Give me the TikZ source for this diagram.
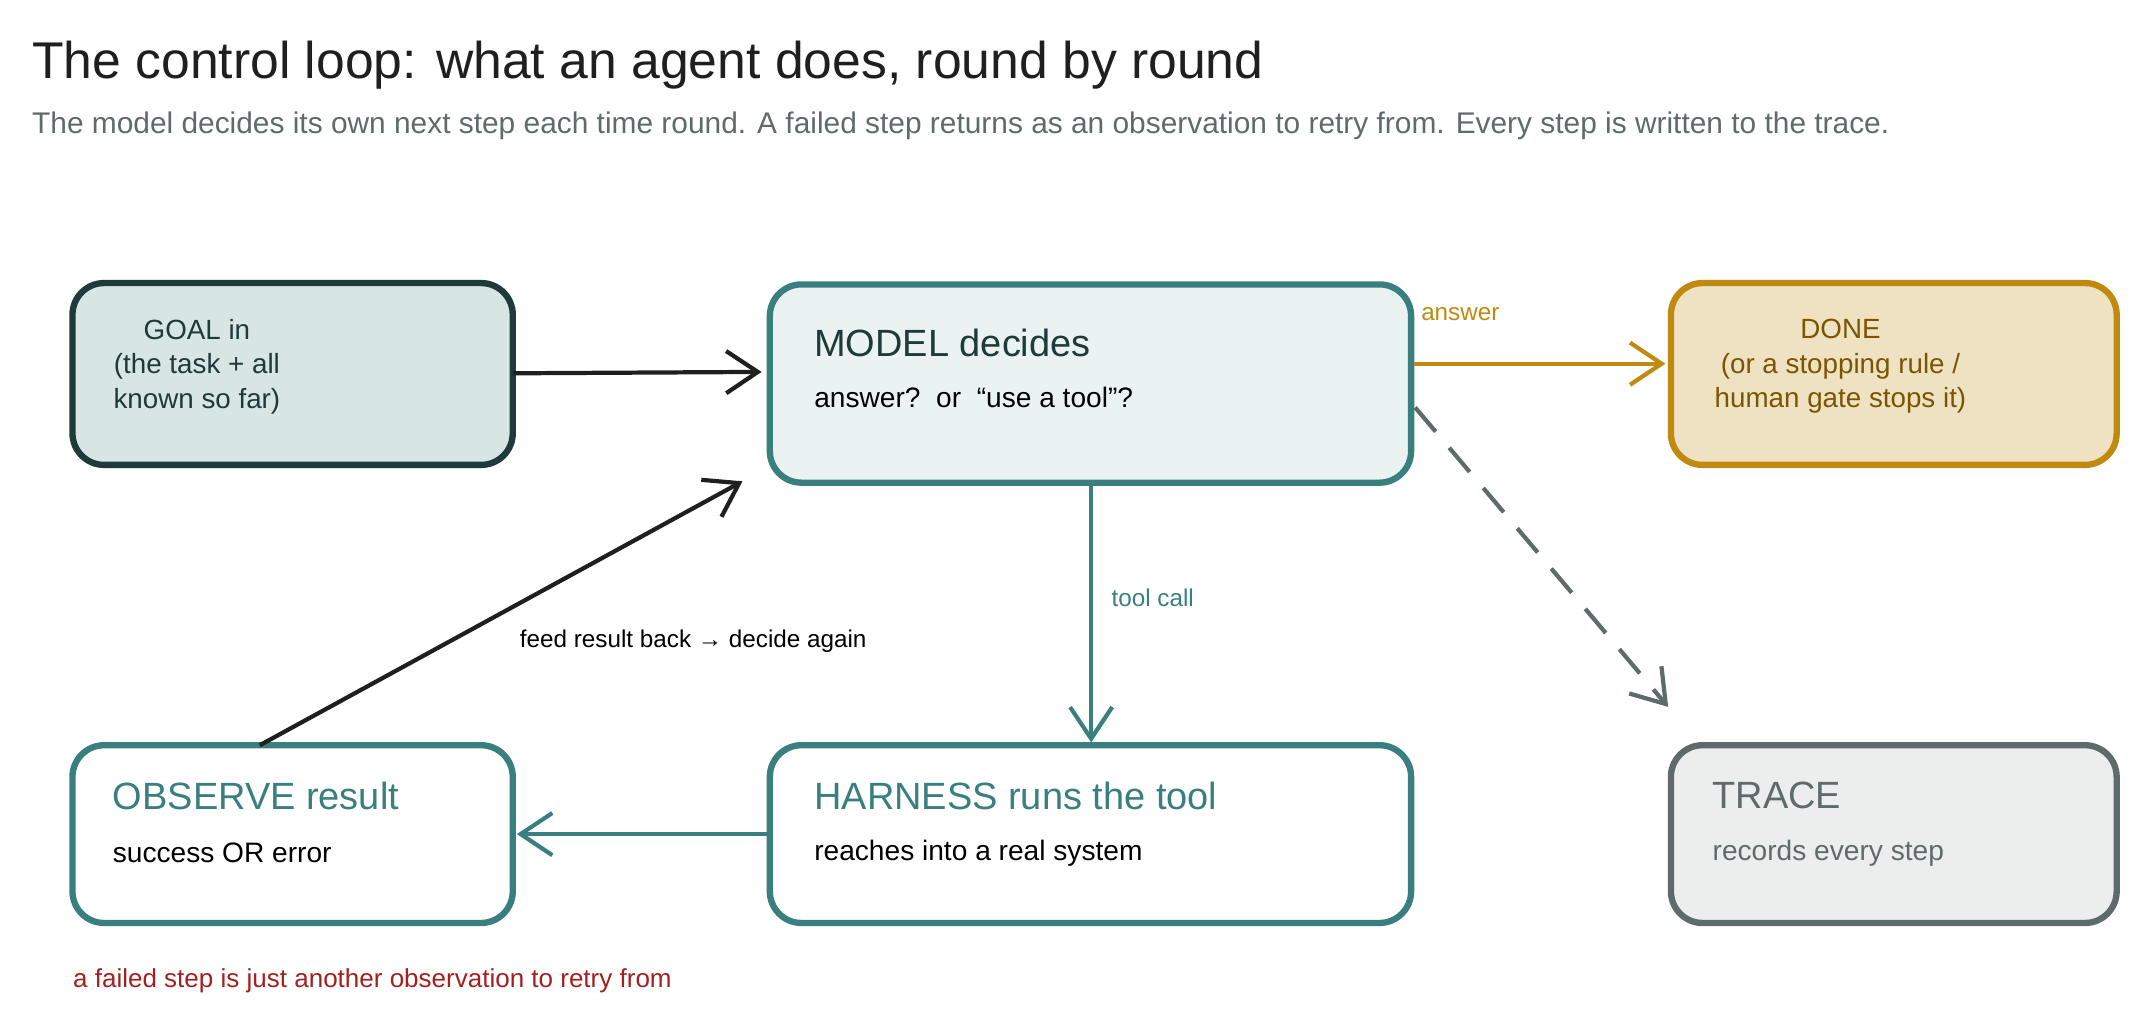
\documentclass[tikz,border=0pt]{standalone}
\usepackage{fontspec}
\setmainfont{Liberation Sans}
\usetikzlibrary{arrows.meta}
\definecolor{ink}{HTML}{1F1F1F}
\definecolor{grey}{HTML}{5F6B6B}
\definecolor{teal}{HTML}{3A7F7F}
\definecolor{darkteal}{HTML}{1F3A3A}
\definecolor{gold}{HTML}{C08A10}
\definecolor{goldtext}{HTML}{7A5600}
\definecolor{errred}{HTML}{A32020}
\tikzset{
    box/.style={draw, line width=1.8pt, rounded corners=9pt},
    head/.style={anchor=west, inner sep=0pt, font=\fontsize{10.8}{13}\selectfont},
    body/.style={anchor=west, inner sep=0pt, font=\fontsize{8}{10}\selectfont},
    lbl/.style={font=\fontsize{6.9}{8}\selectfont},
    arr/.style={line width=1.2pt, -{Straight Barb[length=9pt,width=12pt,line width=1.2pt]}}
}
\begin{document}
\begin{tikzpicture}[x=0.01367cm,y=-0.01367cm]
    \useasboundingbox (0,0) rectangle (1568,752);

    % heading
    \node[anchor=west, inner sep=0pt, ink, font=\fontsize{14.7}{17}\selectfont] (title) at (23,48) {The control loop: what an agent does, round by round};
    \node[anchor=west, inner sep=0pt, grey, font=\fontsize{8.5}{10}\selectfont] (sub) at (23,92) {The model decides its own next step each time round. A failed step returns as an observation to retry from. Every step is written to the trace.};

    % boxes
    \draw[box, draw=darkteal, fill=teal!20] (53,207) rectangle (375,340);
    \node[align=center, darkteal, font=\fontsize{7.9}{9.8}\selectfont] (goal) at (144,268) {GOAL in\\(the task + all\\known so far)};
    \draw[box, draw=teal, fill=teal!10] (563,208) rectangle (1032,353);
    \node[head, darkteal] (model) at (595,251) {MODEL decides};
    \node[body, black] (modelb) at (595,291) {answer?\ \ or\ \ “use a tool”?};
    \draw[box, draw=gold, fill=gold!25] (1222,207) rectangle (1548,340);
    \node[align=center, goldtext, font=\fontsize{7.9}{9.8}\selectfont] (done) at (1346,268) {DONE\\(or a stopping rule /\\human gate stops it)};
    \draw[box, draw=teal, fill=white] (53,545) rectangle (375,675);
    \node[head, teal] (obs) at (82,582) {OBSERVE result};
    \node[body, black] (obsb) at (82,624) {success OR error};
    \draw[box, draw=teal, fill=white] (563,545) rectangle (1032,675);
    \node[head, teal] (harn) at (595,582) {HARNESS runs the tool};
    \node[body, black] (harnb) at (595,624) {reaches into a real system};
    \draw[box, draw=grey, fill=grey!12] (1222,545) rectangle (1548,675);
    \node[head, grey] (trace) at (1252,582) {TRACE};
    \node[body, grey] (traceb) at (1252,624) {records every step};

    % connector ends
    \coordinate (g1) at (375,273);  \coordinate (m1) at (557,272);
    \coordinate (m2) at (1034,266); \coordinate (d1) at (1218,266);
    \coordinate (m3) at (798,353);  \coordinate (h1) at (798,543);
    \coordinate (m4) at (1035,298); \coordinate (t1) at (1220,517);
    \coordinate (h2) at (561,610);  \coordinate (o1) at (378,610);
    \coordinate (o2) at (190,545);  \coordinate (m5) at (543,352);

    \draw[arr, ink] (g1) -- (m1);
    \draw[arr, gold] (m2) -- (d1);
    \draw[arr, teal] (m3) -- (h1);
    \draw[arr, grey, dashed, dash pattern=on 9pt off 6pt] (m4) -- (t1);
    \draw[arr, teal] (h2) -- (o1);
    \draw[arr, ink] (o2) -- (m5);

    % labels
    \node[lbl, gold] (lanswer) at (1068,230) {answer};
    \node[lbl, teal] (ltool) at (843,437) {tool call};
    \node[lbl, black] (lfeed) at (507,469) {feed result back → decide again};
    \node[anchor=west, inner sep=0pt, errred, font=\fontsize{7.4}{9}\selectfont] (note) at (53,717) {a failed step is just another observation to retry from};
\end{tikzpicture}
\end{document}
